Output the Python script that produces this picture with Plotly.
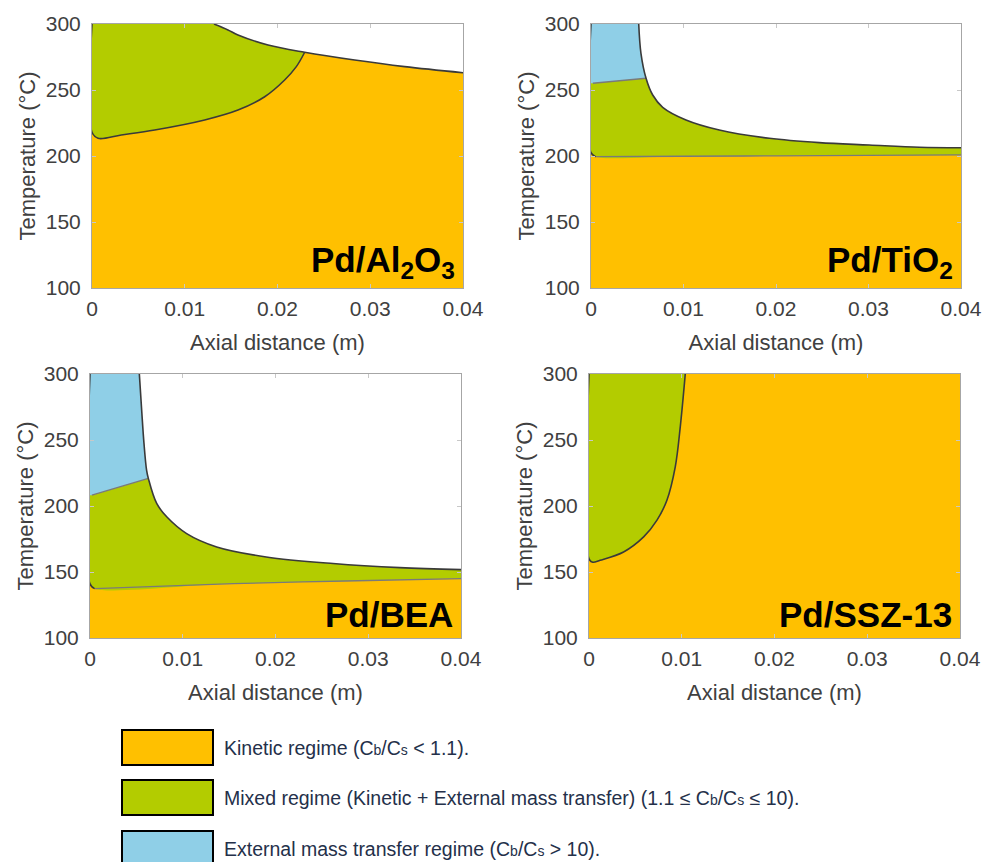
import plotly.graph_objects as go

# ---------------- data ----------------
X_MIN, X_MAX = 0.0, 0.04
T_MIN, T_MAX = 100, 300
x_ticks = [0, 0.01, 0.02, 0.03, 0.04]
x_ticktext = ["0", "0.01", "0.02", "0.03", "0.04"]
t_ticks = [100, 150, 200, 250, 300]

panel_names = ["Pd/Al<sub>2</sub>O<sub>3</sub>", "Pd/TiO<sub>2</sub>", "Pd/BEA", "Pd/SSZ-13"]

# Pd/Al2O3
A_mix_x = [0, 0, 0.00065, 0.00316, 0.00676, 0.01215, 0.01574, 0.01862, 0.02077, 0.02203, 0.02293]
A_mix_T = [300, 218, 213.4, 215.9, 219.7, 227.3, 234.8, 244.9, 257.6, 267.7, 278.6]
A_white_x = [0.01315, 0.01466, 0.01574, 0.01898, 0.02293, 0.02832, 0.03371, 0.04]
A_white_T = [300, 295.5, 291.7, 284.1, 278.6, 272.7, 267.7, 263.1]

# Pd/TiO2
B_mix_x = [0, 0, 0.0005, 0.01, 0.02, 0.03, 0.04]
B_mix_T = [300, 202.5, 199.5, 199.8, 200.1, 200.5, 200.8]
B_ext_x = [0.0002, 0.003, 0.00595]
B_ext_T = [255.1, 257.0, 258.9]
B_white_x = [0.00516, 0.0054, 0.00595, 0.00667, 0.00775, 0.01027, 0.01387, 0.01928, 0.02468, 0.03009, 0.0355, 0.04]
B_white_T = [300, 277.8, 258.9, 246.2, 236.9, 227.3, 219.7, 213.4, 210.1, 208.3, 206.6, 206.2]

# Pd/BEA
C_mix_x = [0, 0, 0.0005, 0.01545, 0.0275, 0.04]
C_mix_T = [300, 141, 137.4, 141.2, 143.2, 145]
C_ext_x = [0.0002, 0.003, 0.00629]
C_ext_T = [208.2, 214, 220.9]
C_white_x = [0.00532, 0.00557, 0.00582, 0.0061, 0.00629, 0.00719, 0.00827, 0.01042, 0.01366, 0.019, 0.0262, 0.0334, 0.04]
C_white_T = [300, 272.7, 247.4, 227.2, 220.9, 201.9, 191.8, 179.1, 169, 161.4, 156.4, 153.3, 151.8]

# Pd/SSZ-13
D_mix_x = [0, 0, 0.0004, 0.0012, 0.00373, 0.00589, 0.00733, 0.0084, 0.0093, 0.00984, 0.01038]
D_mix_T = [300, 160, 157.4, 158.9, 165.2, 176.6, 189.3, 204.4, 229.7, 260, 300]

SUB = "<span style='font-size:14px'>{}</span>"
legend_labels = [
    "Kinetic regime (C" + SUB.format("b") + "/C" + SUB.format("s") + " &lt; 1.1).",
    "Mixed regime (Kinetic + External mass transfer) (1.1 ≤ C" + SUB.format("b") + "/C" + SUB.format("s") + " ≤ 10).",
    "External mass transfer regime (C" + SUB.format("b") + "/C" + SUB.format("s") + " &gt; 10).",
]

# ---------------- style ----------------
ORANGE = "#FFC000"
GREEN = "#B3CC00"
BLUE = "#8FCFE7"
DARK = "#3a3a3a"
GRAYL = "#7a7a7a"
CLEAR = "rgba(0,0,0,0)"
FONT = "Liberation Sans, Arial, sans-serif"
TXT = "#404040"
W, H = 982, 862

panels = [
    dict(box=(92, 24, 463, 288), mix=(A_mix_x, A_mix_T), ext=None, white=(A_white_x, A_white_T)),
    dict(box=(591, 24, 961, 288), mix=(B_mix_x, B_mix_T), ext=(B_ext_x, B_ext_T), white=(B_white_x, B_white_T)),
    dict(box=(90, 374, 461, 638), mix=(C_mix_x, C_mix_T), ext=(C_ext_x, C_ext_T), white=(C_white_x, C_white_T)),
    dict(box=(589, 374, 960, 638), mix=(D_mix_x, D_mix_T), ext=None, white=None),
]

fig = go.Figure()


def trace(xref, yref, xs, ys, color=CLEAR, width=1, shape="linear", fill="none", fillcolor=None):
    fig.add_trace(go.Scatter(x=list(xs), y=list(ys), mode="lines",
                             line=dict(color=color, width=width, shape=shape),
                             fill=fill, fillcolor=fillcolor, xaxis=xref, yaxis=yref,
                             hoverinfo="skip", showlegend=False))


def band(xref, yref, bx, bt, color, shape):
    """Fill the area between a boundary curve and the top of the axis."""
    trace(xref, yref, bx, bt, shape=shape)
    trace(xref, yref, [bx[0], bx[-1]], [T_MAX, T_MAX], fill="tonexty", fillcolor=color)


layout_axes = {}
annotations = []
for i, p in enumerate(panels):
    n = "" if i == 0 else str(i + 1)
    xr, yr = "x" + n, "y" + n
    l, t, r, b = p["box"]
    # kinetic background
    trace(xr, yr, [X_MIN, X_MAX, X_MAX, X_MIN], [T_MIN, T_MIN, T_MAX, T_MAX], fill="toself", fillcolor=ORANGE)
    # mixed region
    mx, mt = p["mix"]
    band(xr, yr, mx, mt, GREEN, "spline")
    # external mass transfer region
    if p["ext"] is not None:
        ex, et = p["ext"]
        band(xr, yr, [X_MIN] + list(ex), [et[0]] + list(et), BLUE, "linear")
    # unfilled region
    if p["white"] is not None:
        wx, wt = p["white"]
        band(xr, yr, list(wx) + [X_MAX], list(wt) + [wt[-1]], "white", "spline")
    # boundary lines
    if p["ext"] is not None:
        trace(xr, yr, mx[2:], mt[2:], GRAYL, 1.3, "spline")
        trace(xr, yr, mx[:3], mt[:3], DARK, 1.6, "spline")
        trace(xr, yr, p["ext"][0], p["ext"][1], GRAYL, 1.3)
    else:
        trace(xr, yr, mx, mt, DARK, 1.6, "spline")
    if p["white"] is not None:
        trace(xr, yr, p["white"][0], p["white"][1], DARK, 1.6, "spline")

    axis_common = dict(showline=True, linecolor="#a6a6a6", linewidth=1, mirror="ticks",
                       ticks="inside", ticklen=4, tickcolor="#c8c8c8", showgrid=False,
                       zeroline=False, tickfont=dict(family=FONT, size=21, color=TXT),
                       fixedrange=True, automargin=False)
    layout_axes["xaxis" + n] = dict(axis_common, domain=[l / W, r / W], range=[X_MIN, X_MAX],
                                    tickvals=x_ticks, ticktext=x_ticktext, anchor=yr,
                                    ticklabelstandoff=2,
                                    title=dict(text="Axial distance (m)", standoff=15,
                                               font=dict(family=FONT, size=22, color=TXT)))
    layout_axes["yaxis" + n] = dict(axis_common, domain=[1 - b / H, 1 - t / H], range=[T_MIN, T_MAX],
                                    tickvals=t_ticks, anchor=xr, ticklabelstandoff=6,
                                    title=dict(text="Temperature (°C)", standoff=4,
                                               font=dict(family=FONT, size=22, color=TXT)))
    annotations.append(dict(text="<b>" + panel_names[i] + "</b>", xref=xr + " domain", yref=yr + " domain",
                            x=0.985, y=0.006, xanchor="right", yanchor="bottom", showarrow=False,
                            font=dict(family=FONT, size=35, color="black")))

# legend drawn as boxes + text
shapes = []
leg_colors = [ORANGE, GREEN, BLUE]
leg_tops = [730, 780, 831]
for c, top, lab in zip(leg_colors, leg_tops, legend_labels):
    shapes.append(dict(type="rect", xref="paper", yref="paper", x0=122 / W, x1=213 / W,
                       y0=1 - (top + 35) / H, y1=1 - top / H, fillcolor=c,
                       line=dict(color="black", width=2)))
    annotations.append(dict(text=lab, xref="paper", yref="paper", x=222 / W, y=1 - (top + 17.5) / H,
                            xanchor="left", yanchor="middle", showarrow=False,
                            font=dict(family=FONT, size=19.5, color="#24304a")))

fig.update_layout(width=W, height=H, margin=dict(l=0, r=0, t=0, b=0, pad=0, autoexpand=False),
                  paper_bgcolor="white", plot_bgcolor="white", showlegend=False,
                  shapes=shapes, annotations=annotations, **layout_axes)

fig.write_html("out.html")
